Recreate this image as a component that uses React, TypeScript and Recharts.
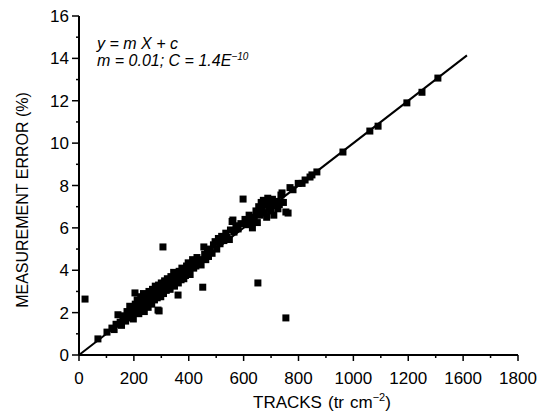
import React from "react";
import { ScatterChart, Scatter, XAxis, YAxis, ReferenceLine } from "recharts";

const FONT = "'Liberation Sans', Arial, sans-serif";

// tick positions; the printed labels skip 1400 just like the original figure
const X_TICKS = [0, 100, 200, 300, 400, 500, 600, 700, 800, 900, 1000, 1100, 1200, 1300, 1400, 1500, 1600];
const X_LABELS = ["0", "200", "400", "600", "800", "1000", "1200", "1600", "1800"];
const Y_TICKS = [0, 1, 2, 3, 4, 5, 6, 7, 8, 9, 10, 11, 12, 13, 14, 15, 16];

// tracks (tr cm-2), measurement error (%)
const POINTS: [number, number][] = [
  [22, 2.64], [69, 0.76], [102, 1.08], [120, 1.27], [128, 1.2], [135, 1.45], [142, 1.9], [150, 1.55],
  [155, 1.4], [160, 1.7], [165, 1.85], [170, 1.6], [175, 2.05], [180, 1.75], [185, 2.3], [190, 1.9],
  [195, 2.15], [198, 1.7], [204, 2.93], [205, 2.4], [210, 2.0], [212, 2.6], [215, 2.25], [218, 1.95],
  [222, 2.5], [225, 2.75], [228, 2.2], [232, 2.35], [235, 2.9], [238, 2.05], [240, 2.6], [245, 2.45],
  [248, 2.8], [252, 2.25], [255, 3.0], [258, 2.55], [262, 2.7], [265, 2.4], [268, 3.1], [270, 2.85],
  [275, 2.6], [278, 3.25], [280, 2.95], [285, 2.7], [288, 2.12], [290, 3.3], [292, 2.08], [295, 3.0],
  [298, 2.75], [300, 3.4], [305, 3.15], [306, 5.1], [308, 2.9], [312, 3.5], [315, 3.2], [318, 3.05],
  [322, 3.6], [325, 3.3], [328, 3.45], [332, 3.1], [335, 3.7], [338, 3.35], [342, 3.55], [345, 3.9],
  [348, 3.25], [352, 3.65], [355, 3.5], [358, 3.8], [361, 2.83], [362, 3.4], [365, 3.95], [368, 3.7],
  [372, 3.55], [375, 4.1], [378, 3.85], [382, 3.6], [385, 4.0], [388, 3.75], [392, 4.2], [395, 3.95],
  [398, 4.35], [402, 4.05], [405, 3.8], [410, 4.25], [414, 4.5], [418, 4.1], [422, 4.4], [426, 4.2],
  [430, 4.6], [435, 4.35], [440, 4.5], [445, 4.25], [451, 3.2], [455, 5.1], [458, 4.75], [462, 4.5],
  [468, 4.9], [472, 4.65], [478, 5.0], [485, 4.8], [490, 5.2], [496, 5.35], [502, 5.0], [508, 5.5],
  [514, 5.25], [520, 5.6], [528, 5.4], [535, 5.75], [540, 5.55], [548, 5.45], [552, 5.9], [558, 6.3],
  [561, 6.37], [565, 5.8], [572, 6.1], [580, 5.95], [590, 6.2], [598, 7.36], [605, 6.4], [612, 6.15],
  [620, 6.6], [626, 6.3], [632, 6.0], [638, 6.5], [645, 6.8], [650, 6.25], [652, 3.4], [655, 7.0],
  [660, 6.6], [664, 7.2], [668, 6.9], [672, 7.3], [676, 6.7], [680, 7.1], [684, 6.5], [688, 7.4],
  [692, 6.95], [696, 7.2], [700, 6.8], [705, 7.35], [710, 6.6], [715, 7.05], [720, 7.25], [725, 6.9],
  [730, 7.1], [736, 7.55], [740, 7.65], [745, 7.2], [754, 1.75], [754, 6.75], [762, 6.7], [769, 7.9],
  [780, 7.8], [799, 8.1], [813, 8.1], [824, 8.26], [842, 8.4], [849, 8.5], [867, 8.64], [962, 9.58],
  [1060, 10.57], [1090, 10.8], [1195, 11.9], [1250, 12.4], [1308, 13.07],
];

// fitted line y = m X + c, end points as drawn
const FIT_START = { x: 0, y: 0 };
const FIT_END = { x: 1414, y: 14.14 };

const data = POINTS.map(([x, y]) => ({ x, y }));

function XTick({ x, y, payload }: any) {
  const v = payload.value;
  const major = v % 200 === 0;
  return (
    <g>
      <line x1={x} x2={x} y1={y} y2={y + (major ? 6 : 3)} stroke="#000" strokeWidth={1.5} />
      {major && (
        <text x={x} y={y + 29} textAnchor="middle" fontSize={17} fontFamily={FONT} fill="#000">
          {X_LABELS[v / 200]}
        </text>
      )}
    </g>
  );
}

function YTick({ x, y, payload }: any) {
  const v = payload.value;
  const major = v % 2 === 0;
  return (
    <g>
      <line x1={x - (major ? 7 : 3)} x2={x} y1={y} y2={y} stroke="#000" strokeWidth={1.5} />
      {major && (
        <text x={x - 10} y={y + 6} textAnchor="end" fontSize={17} fontFamily={FONT} fill="#000">
          {v}
        </text>
      )}
    </g>
  );
}

const Square = ({ cx, cy }: any) => <rect x={cx - 3.5} y={cy - 3.5} width={7} height={7} fill="#000" />;

export default function App() {
  return (
    <div style={{ position: "absolute", left: 0, top: 0, width: 539, height: 418, background: "#fff" }}>
      <ScatterChart width={539} height={418} margin={{ top: 16, right: 21, bottom: 0, left: 0 }}>
        <XAxis
          type="number"
          dataKey="x"
          domain={[0, 1600]}
          ticks={X_TICKS}
          interval={0}
          height={63}
          tickSize={0}
          tickMargin={0}
          tickLine={false}
          axisLine={{ stroke: "#000", strokeWidth: 2 }}
          tick={<XTick />}
        />
        <YAxis
          type="number"
          dataKey="y"
          domain={[0, 16]}
          ticks={Y_TICKS}
          interval={0}
          width={79}
          tickSize={0}
          tickMargin={0}
          tickLine={false}
          axisLine={{ stroke: "#000", strokeWidth: 2 }}
          tick={<YTick />}
        />
        <ReferenceLine segment={[FIT_START, FIT_END]} stroke="#000" strokeWidth={2} />
        <Scatter data={data} fill="#000" shape={<Square />} isAnimationActive={false} />
      </ScatterChart>
      <svg width={539} height={418} style={{ position: "absolute", left: 0, top: 0, pointerEvents: "none" }}>
        <g fontFamily={FONT} fill="#000">
          <text x={97} y={49} fontSize={16} fontStyle="italic">y = m X + c</text>
          <text x={97} y={66} fontSize={16} fontStyle="italic">
            m = 0.01; C = 1.4E<tspan dy={-6} fontSize={10}>−10</tspan>
          </text>
          <text x={253} y={408} fontSize={17}>
            TRACKS<tspan dx={6}>(tr</tspan><tspan dx={6}>cm</tspan>
            <tspan dy={-7} fontSize={11}>−2</tspan><tspan dy={7}>)</tspan>
          </text>
          <text transform="translate(28,200) rotate(-90)" textAnchor="middle" fontSize={16}>
            MEASUREMENT ERROR (%)
          </text>
        </g>
      </svg>
    </div>
  );
}
